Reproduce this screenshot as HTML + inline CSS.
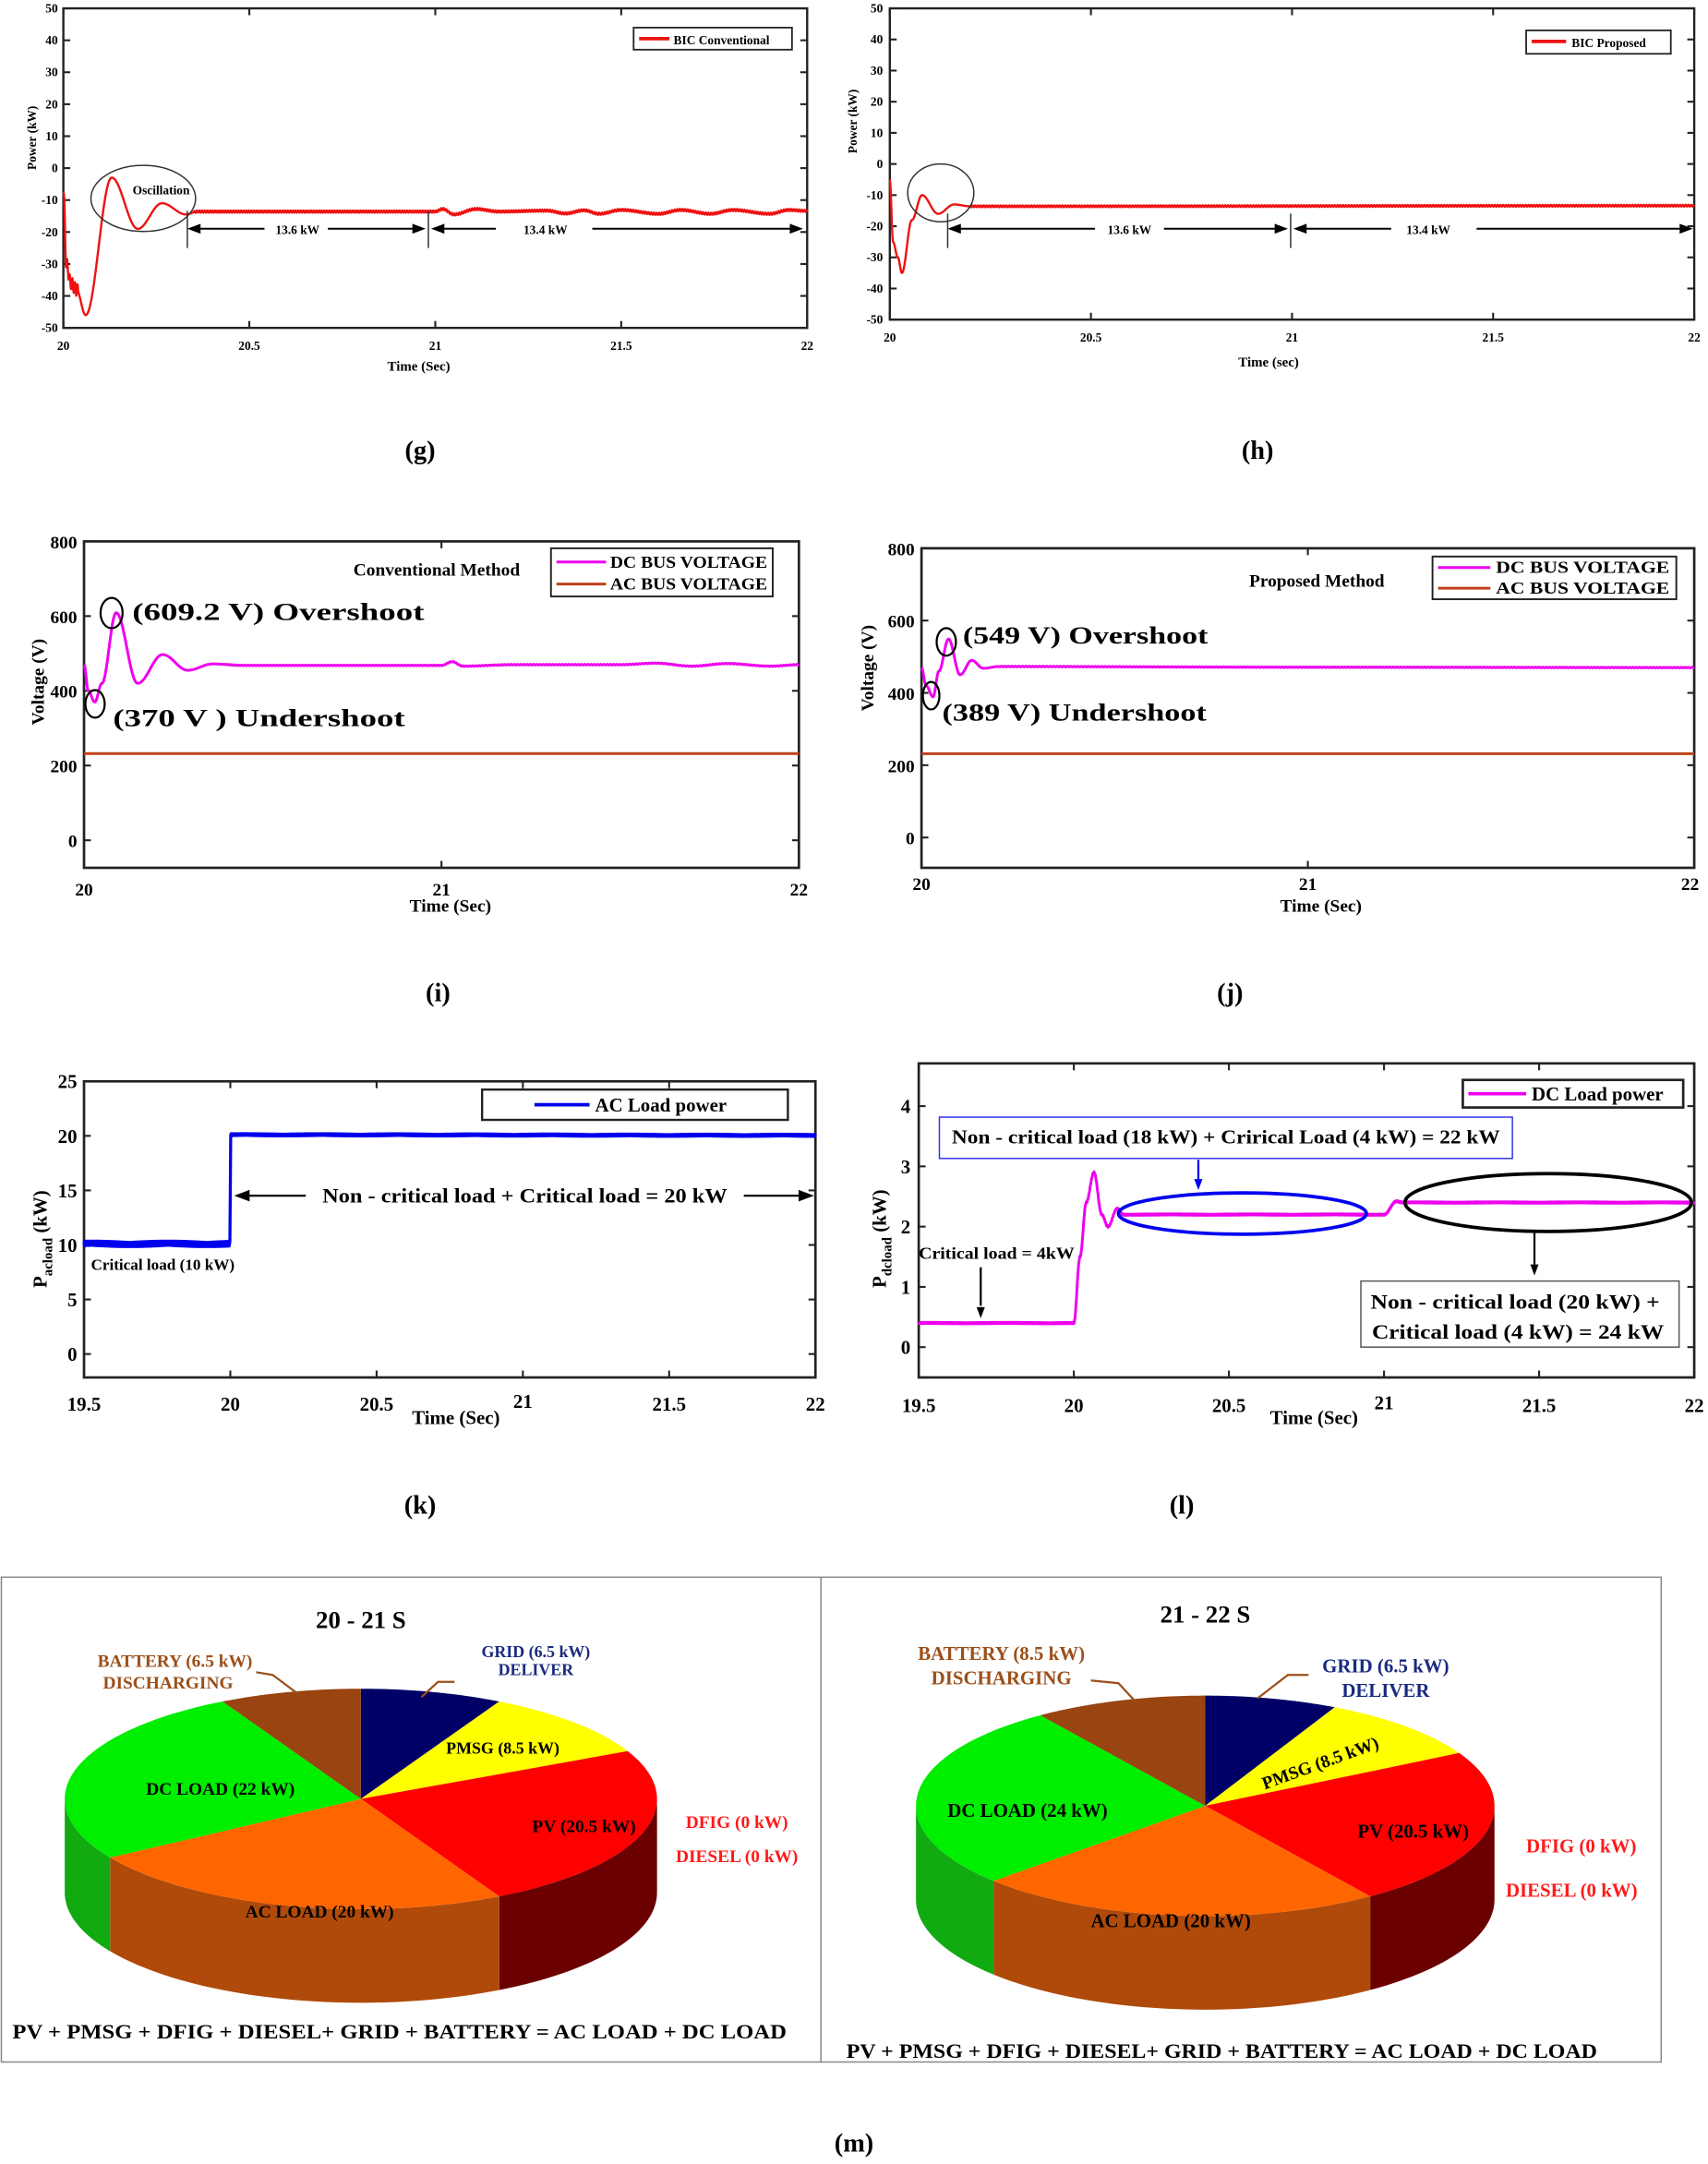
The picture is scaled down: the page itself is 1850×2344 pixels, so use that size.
<!DOCTYPE html>
<html><head><meta charset="utf-8"><style>
html,body{margin:0;padding:0;background:#fff}
svg{display:block}
text{font-family:"Liberation Serif",serif;font-weight:bold}
</style></head><body>
<svg id="s" xmlns="http://www.w3.org/2000/svg" width="1850" height="2344" viewBox="0 0 1240 1571">
<rect width="1240" height="1571" fill="#fff"/>
</svg>
<script>
const NS="http://www.w3.org/2000/svg",S=document.getElementById('s');
function el(t,a,txt,p){const e=document.createElementNS(NS,t);for(const k in a)e.setAttribute(k,a[k]);if(txt!=null)e.textContent=txt;(p||S).appendChild(e);return e;}
function T(x,y,s,size,o){o=o||{};const a={x:x,y:y,'font-size':size,'text-anchor':o.a||'middle',fill:o.f||'#000'};if(o.r)a.transform='rotate('+o.r+' '+x+' '+y+')';if(o.tl){a.textLength=o.tl;a.lengthAdjust='spacingAndGlyphs';}return el('text',a,s);}
function L(x1,y1,x2,y2,c,w){return el('line',{x1,y1,x2,y2,stroke:c||'#000','stroke-width':w||1});}
function arrowHead(x,y,dir,c,sz){sz=sz||6;let p;
 if(dir=='r')p=[x,y,x-sz*1.6,y-sz*0.6,x-sz*1.6,y+sz*0.6];
 if(dir=='l')p=[x,y,x+sz*1.6,y-sz*0.6,x+sz*1.6,y+sz*0.6];
 if(dir=='d')p=[x,y,x-sz*0.6,y-sz*1.6,x+sz*0.6,y-sz*1.6];
 el('polygon',{points:p.join(' '),fill:c||'#000'});}
function plot(c){
 const X=v=>c.x0+(v-c.xmin)/(c.xmax-c.xmin)*(c.x1-c.x0);
 const Y=v=>c.yb-(v-c.ymin)/(c.ymax-c.ymin)*(c.yb-c.ytop);
 c.X=X;c.Y=Y;
 el('rect',{x:c.x0,y:c.y0,width:c.x1-c.x0,height:c.y1-c.y0,fill:'none',stroke:'#222','stroke-width':c.bw||1.6});
 c.xt.forEach(v=>{const x=X(v);L(x,c.y1,x,c.y1-5,'#222',1.4);L(x,c.y0,x,c.y0+5,'#222',1.4);});
 c.yt.forEach(v=>{const y=Y(v);L(c.x0,y,c.x0+5,y,'#222',1.4);L(c.x1,y,c.x1-5,y,'#222',1.4);});
 return c;}
function curve(c,pts,rip,col,w,rf){
 let d='';const x0=pts[0][0],x1=pts[pts.length-1][0],N=1800;
 for(let i=0;i<=N;i++){const t=x0+(x1-x0)*i/N;let k=0;while(k<pts.length-2&&t>pts[k+1][0])k++;
  const a=pts[k],b=pts[k+1];let f=(t-a[0])/(b[0]-a[0]);f=Math.max(0,Math.min(1,f));
  let v=a[1]+(b[1]-a[1])*(1-Math.cos(Math.PI*f))/2;
  if(rip)v+=rip(t)*Math.sin(t*(rf||600));
  d+=(i?'L':'M')+c.X(t).toFixed(2)+' '+c.Y(v).toFixed(2);}
 el('path',{d,fill:'none',stroke:col,'stroke-width':w,'stroke-linejoin':'round'});}

/* ---------- (g) ---------- */
const yg=[-50,-40,-30,-20,-10,0,10,20,30,40,50];
let g=plot({x0:46,x1:586,y0:6,y1:238,xmin:20,xmax:22,ytop:6,yb:238,ymin:-50,ymax:50,xt:[20,20.5,21,21.5,22],yt:yg});
yg.forEach(v=>T(42,g.Y(v)+3,String(v),9,{a:'end'}));
[20,20.5,21,21.5,22].forEach(v=>T(g.X(v),254,String(v),9));
T(26,100,'Power (kW)',9,{r:-90});T(304,269,'Time (Sec)',10);
curve(g,[[20,-6],[20.008,-30],[20.02,-36],[20.035,-38],[20.06,-46],[20.13,-3],[20.2,-19],[20.265,-11],[20.33,-14.5],[20.36,-13.6],[21,-13.6],[21.02,-12.8],[21.05,-14.5],[21.11,-12.8],[21.17,-13.6],[21.3,-13.3],[21.35,-14.2],[21.4,-13.2],[21.44,-14.3],[21.5,-13.1],[21.6,-14.3],[21.66,-13.1],[21.74,-14.3],[21.8,-13.1],[21.9,-14.3],[21.95,-13.1],[22,-13.4]],t=>t>20.35?0.35:(t<20.04?2:0),'#ee1111',1.6,900);
el('rect',{x:460,y:20,width:115,height:16,fill:'#fff',stroke:'#222','stroke-width':1.2});
L(464,28,486,28,'#ee1111',2.5);T(489,32,'BIC Conventional',9,{a:'start'});
el('ellipse',{cx:104,cy:144,rx:38,ry:24,fill:'none',stroke:'#333','stroke-width':1});
T(117,141,'Oscillation',9);
L(136,153,136,180,'#333',1);L(311,153,311,180,'#333',1);
L(138,166,192,166,'#000',1.3);arrowHead(136,166,'l');T(216,170,'13.6 kW',9);L(238,166,306,166,'#000',1.3);arrowHead(309,166,'r');
L(315,166,360,166,'#000',1.3);arrowHead(313,166,'l');T(396,170,'13.4 kW',9);L(430,166,580,166,'#000',1.3);arrowHead(583,166,'r');

/* ---------- (h) ---------- */
let h=plot({x0:646,x1:1230,y0:6,y1:232,xmin:20,xmax:22,ytop:6,yb:232,ymin:-50,ymax:50,xt:[20,20.5,21,21.5,22],yt:yg});
yg.forEach(v=>T(641,h.Y(v)+3,String(v),9,{a:'end'}));
[20,20.5,21,21.5,22].forEach(v=>T(h.X(v),248,String(v),9));
T(622,88,'Power (kW)',9,{r:-90});T(921,266,'Time (sec)',10);
curve(h,[[20,-5],[20.008,-25],[20.02,-30],[20.03,-35],[20.055,-18],[20.08,-10],[20.12,-16],[20.16,-13],[20.2,-13.6],[22,-13.4]],t=>t>20.2?0.3:0,'#ee1111',1.6,900);
el('rect',{x:1108,y:22,width:105,height:17,fill:'#fff',stroke:'#222','stroke-width':1.2});
L(1112,30,1137,30,'#ee1111',2.5);T(1141,34,'BIC Proposed',9,{a:'start'});
el('ellipse',{cx:683,cy:140,rx:24,ry:21,fill:'none',stroke:'#333','stroke-width':1});
L(688,155,688,180,'#333',1);L(937,155,937,180,'#333',1);
L(690,166,795,166,'#000',1.3);arrowHead(688,166,'l');T(820,170,'13.6 kW',9);L(845,166,932,166,'#000',1.3);arrowHead(935,166,'r');
L(941,166,1010,166,'#000',1.3);arrowHead(939,166,'l');T(1037,170,'13.4 kW',9);L(1072,166,1224,166,'#000',1.3);arrowHead(1229,166,'r');

T(305,333,'(g)',19);T(913,333,'(h)',19);

/* ---------- (i) ---------- */
let I=plot({x0:61,x1:580,y0:393,y1:630,xmin:20,xmax:22,ytop:393,yb:610,ymin:0,ymax:800,xt:[20,21,22],yt:[0,200,400,600,800],bw:1.8});
[0,200,400,600,800].forEach(v=>T(56,I.Y(v)+5,String(v),13,{a:'end'}));
[20,21,22].forEach(v=>T(I.X(v),650,String(v),13));
T(327,662,'Time (Sec)',13);T(32,495,'Voltage (V)',13,{r:-90});
curve(I,[[20,232],[22,232]],null,'#c0401a',2);
curve(I,[[20,470],[20.012,400],[20.03,370],[20.05,420],[20.09,609],[20.15,420],[20.22,497],[20.29,455],[20.36,472],[20.45,468],[21,468],[21.03,478],[21.06,466],[21.2,470],[21.5,470],[21.6,474],[21.7,466],[21.8,473],[21.92,466],[22,470]],t=>t>20.4?0.8:0,'#ee00ee',2,700);
el('rect',{x:400,y:398,width:161,height:35,fill:'#fff',stroke:'#222','stroke-width':1.3});
L(404,408,440,408,'#ee00ee',2);T(443,412,'DC BUS VOLTAGE',12,{a:'start',tl:114});
L(404,424,440,424,'#c0401a',2);T(443,428,'AC BUS VOLTAGE',12,{a:'start',tl:114});
T(317,418,'Conventional Method',13);
T(96,450,'(609.2 V) Overshoot',18,{a:'start',tl:212});
el('ellipse',{cx:81,cy:445,rx:8,ry:11,fill:'none',stroke:'#000','stroke-width':1.5});
T(82,527,'(370 V ) Undershoot',18,{a:'start',tl:212});
el('ellipse',{cx:69,cy:511,rx:7,ry:10,fill:'none',stroke:'#000','stroke-width':1.5});

/* ---------- (j) ---------- */
let J=plot({x0:669,x1:1230,y0:398,y1:630,xmin:20,xmax:22,ytop:398,yb:608,ymin:0,ymax:800,xt:[20,21,22],yt:[0,200,400,600,800],bw:1.8});
[0,200,400,600,800].forEach(v=>T(664,J.Y(v)+5,String(v),13,{a:'end'}));
[20,21,22].forEach(v=>T(v==22?1227:J.X(v),646,String(v),13));
T(959,662,'Time (Sec)',13);T(634,485,'Voltage (V)',13,{r:-90});
curve(J,[[20,232],[22,232]],null,'#c0401a',2);
curve(J,[[20,470],[20.012,420],[20.03,389],[20.045,460],[20.07,549],[20.1,450],[20.13,490],[20.16,468],[20.2,473],[21,471],[22,470]],t=>t>20.2?0.8:0,'#ee00ee',2,700);
el('rect',{x:1040,y:404,width:177,height:31,fill:'#fff',stroke:'#222','stroke-width':1.3});
L(1044,412,1082,412,'#ee00ee',2);T(1086,416,'DC BUS VOLTAGE',12,{a:'start',tl:126});
L(1044,427,1082,427,'#c0401a',2);T(1086,431,'AC BUS VOLTAGE',12,{a:'start',tl:126});
T(956,426,'Proposed Method',13);
T(699,467,'(549 V) Overshoot',18,{a:'start',tl:178});
el('ellipse',{cx:687,cy:466,rx:7,ry:10,fill:'none',stroke:'#000','stroke-width':1.5});
T(684,523,'(389 V) Undershoot',18,{a:'start',tl:192});
el('ellipse',{cx:676,cy:505,rx:6,ry:10,fill:'none',stroke:'#000','stroke-width':1.5});

T(318,727,'(i)',19);T(893,727,'(j)',19);

/* ---------- (k) ---------- */
let K=plot({x0:61,x1:592,y0:785,y1:1000,xmin:19.5,xmax:22,ytop:785,yb:983,ymin:0,ymax:25,xt:[19.5,20,20.5,21,21.5,22],yt:[0,5,10,15,20,25],bw:1.8});
[0,5,10,15,20,25].forEach(v=>T(56,K.Y(v)+5,String(v),14,{a:'end'}));
[19.5,20,20.5,21,21.5,22].forEach(v=>T(K.X(v),v==21?1022:1024,String(v),14));
T(331,1034,'Time (Sec)',14);
el('text',{x:34,y:935,'font-size':14,transform:'rotate(-90 34 935)'}).innerHTML='P<tspan font-size="10" dy="4">acload</tspan><tspan dy="-4"> (kW)</tspan>';
curve(K,[[19.5,10.1],[19.999,10.1],[20.001,20.1],[22,20.05]],t=>t<20?0.25:0.1,'#0000ee',2.2,1500);
el('rect',{x:350,y:791,width:222,height:22,fill:'#fff',stroke:'#222','stroke-width':1.6});
L(388,802,428,802,'#0000ee',2.5);T(432,807,'AC Load power',14,{a:'start'});
L(178,868,222,868,'#000',1.5);arrowHead(170,868,'l',null,7);
T(381,873,'Non - critical load + Critical load = 20 kW',15,{tl:294});
L(540,868,582,868,'#000',1.5);arrowHead(591,868,'r',null,7);
T(66,922,'Critical load (10 kW)',11.5,{a:'start'});

/* ---------- (l) ---------- */
let Lp=plot({x0:667,x1:1230,y0:772,y1:1000,xmin:19.5,xmax:22,ytop:803,yb:978,ymin:0,ymax:4,xt:[19.5,20,20.5,21,21.5,22],yt:[0,1,2,3,4],bw:1.8});
[0,1,2,3,4].forEach(v=>T(661,Lp.Y(v)+5,String(v),14,{a:'end'}));
[19.5,20,20.5,21,21.5,22].forEach(v=>T(Lp.X(v),v==21?1023:1025,String(v),14));
T(954,1034,'Time (Sec)',14);
el('text',{x:643,y:935,'font-size':14,transform:'rotate(-90 643 935)'}).innerHTML='P<tspan font-size="10" dy="4">dcload</tspan><tspan dy="-4"> (kW)</tspan>';
curve(Lp,[[19.5,0.4],[20,0.4],[20.02,1.5],[20.04,2.4],[20.065,2.9],[20.09,2.2],[20.11,2.0],[20.14,2.3],[20.16,2.2],[20.97,2.2],[21,2.2],[21.04,2.42],[21.06,2.4],[22,2.4]],t=>0.012,'#ee00ee',2,1500);
el('rect',{x:1062,y:784,width:160,height:20,fill:'#fff',stroke:'#222','stroke-width':1.8});
L(1066,794,1108,794,'#ee00ee',2.5);T(1112,799,'DC Load power',14,{a:'start'});
el('rect',{x:682,y:811,width:416,height:30,fill:'#fff',stroke:'#3333ee','stroke-width':1});
T(890,830,'Non - critical load (18 kW) + Crirical Load (4 kW) = 22 kW',14,{tl:398});
L(870,842,870,856,'#0000ee',1.5);arrowHead(870,864,'d','#0000ee',5);
el('ellipse',{cx:902,cy:881,rx:90,ry:15,fill:'none',stroke:'#0000ee','stroke-width':2.5});
el('ellipse',{cx:1124,cy:873,rx:104,ry:21,fill:'none',stroke:'#000','stroke-width':2.5});
L(1114,895,1114,918,'#000',1.5);arrowHead(1114,926,'d',null,5);
el('rect',{x:988,y:930,width:231,height:48,fill:'#fff',stroke:'#555','stroke-width':1});
T(1100,950,'Non - critical load (20 kW) +',15,{tl:210});T(1102,972,'Critical load (4 kW) = 24 kW',15,{tl:212});
T(667,914,'Critical load = 4kW',12,{a:'start',tl:113});
L(712,920,712,948,'#000',1.5);arrowHead(712,957,'d',null,5);

T(305,1099,'(k)',19);T(858,1099,'(l)',19);

/* ---------- (m) pies ---------- */
el('rect',{x:1,y:1145,width:1205,height:352,fill:'#fff',stroke:'#888','stroke-width':1});
L(596,1145,596,1497,'#888',1);
function pie(cx,cy,rx,ry,dep,vals,cols,sides){
 const tot=vals.reduce((a,b)=>a+b,0);let acc=0;const P=t=>[cx+rx*Math.sin(t),cy-ry*Math.cos(t)];
 const angs=vals.map(v=>{const a=[acc,acc+v/tot*2*Math.PI];acc+=v/tot*2*Math.PI;return a;});
 angs.forEach((a,i)=>{let s=Math.max(a[0],Math.PI/2),e=Math.min(a[1],1.5*Math.PI);if(e<=s)return;
  let d='';const n=40;for(let k=0;k<=n;k++){const t=s+(e-s)*k/n;const p=P(t);d+=(k?'L':'M')+p[0]+' '+p[1];}
  for(let k=n;k>=0;k--){const t=s+(e-s)*k/n;const p=P(t);d+='L'+p[0]+' '+(p[1]+dep);}
  el('path',{d:d+'Z',fill:sides[i]});});
 angs.forEach((a,i)=>{let d='M'+cx+' '+cy;const n=50;for(let k=0;k<=n;k++){const t=a[0]+(a[1]-a[0])*k/n;const p=P(t);d+='L'+p[0]+' '+p[1];}
  el('path',{d:d+'Z',fill:cols[i]});});
}
const cols=['#000066','#ffff00','#ff0000','#ff6600','#00ee00','#994411'];
const sides=['#000044','#999900','#6a0000','#b04a0a','#11aa11','#663300'];
pie(262,1306,215,80,68,[6.5,8.5,20.5,20,22,6.5],cols,sides);
pie(875,1311,210,80,68,[6.5,8.5,20.5,20,24,8.5],cols,sides);
const BR='#9b4f1a',NV='#1a2a80',RD='#ff1a1a';
T(262,1182,'20 - 21 S',18);
T(127,1210,'BATTERY (6.5 kW)',13,{f:BR});T(122,1226,'DISCHARGING',13,{f:BR});
el('polyline',{points:'186,1214 198,1216 218,1231',fill:'none',stroke:BR,'stroke-width':1.5});
T(389,1203,'GRID (6.5 kW)',12,{f:NV});T(389,1216,'DELIVER',12,{f:NV});
el('polyline',{points:'306,1232 318,1221 330,1221',fill:'none',stroke:BR,'stroke-width':1.5});
T(365,1273,'PMSG (8.5 kW)',12);T(160,1303,'DC LOAD (22 kW)',13);T(424,1330,'PV (20.5 kW)',13);T(232,1392,'AC LOAD (20 kW)',13);
T(535,1327,'DFIG (0 kW)',13,{f:RD});T(535,1352,'DIESEL (0 kW)',13,{f:RD});
T(290,1480,'PV + PMSG + DFIG + DIESEL+ GRID + BATTERY = AC LOAD + DC LOAD',15,{tl:562});
T(875,1178,'21 - 22 S',18);
T(727,1205,'BATTERY (8.5 kW)',14,{f:BR});T(727,1223,'DISCHARGING',14,{f:BR});
el('polyline',{points:'792,1220 812,1222 825,1236',fill:'none',stroke:BR,'stroke-width':1.5});
T(1006,1214,'GRID (6.5 kW)',14,{f:NV});T(1006,1232,'DELIVER',14,{f:NV});
el('polyline',{points:'913,1233 935,1216 950,1216',fill:'none',stroke:BR,'stroke-width':1.5});
T(960,1284,'PMSG (8.5 kW)',13,{r:-20});T(746,1319,'DC LOAD (24 kW)',14);T(1026,1334,'PV (20.5 kW)',14);T(850,1399,'AC LOAD (20 kW)',14);
T(1148,1345,'DFIG (0 kW)',14,{f:RD});T(1141,1377,'DIESEL (0 kW)',14,{f:RD});
T(887,1494,'PV + PMSG + DFIG + DIESEL+ GRID + BATTERY = AC LOAD + DC LOAD',15,{tl:545});
T(620,1562,'(m)',19);
</script>
</body></html>
